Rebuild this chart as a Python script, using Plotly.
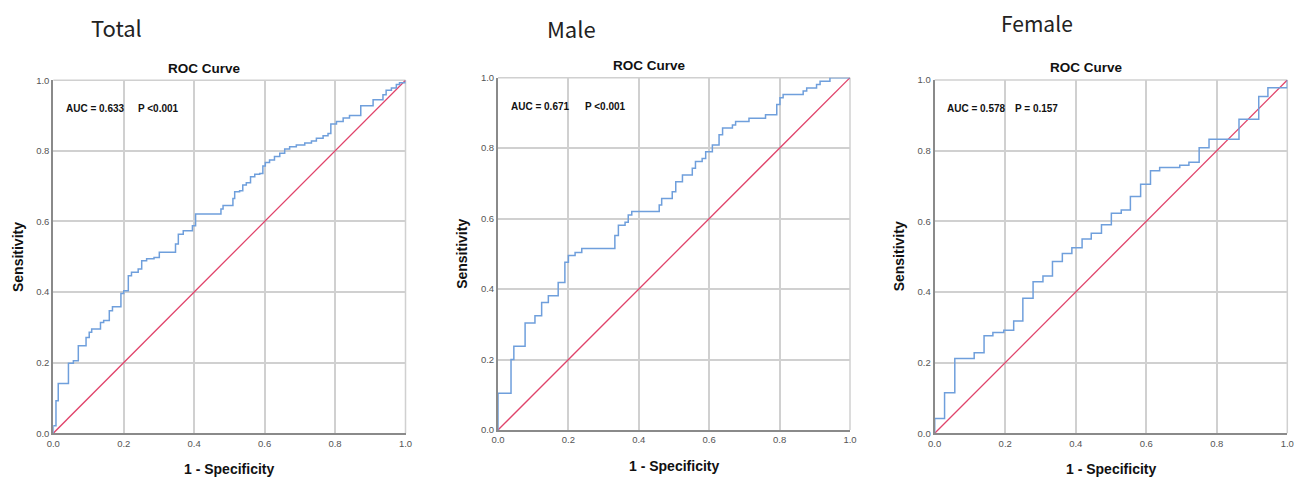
import plotly.graph_objects as go

# page body has an 8px default margin; the figure fills the rest of the 1303x478 window
OFF = 8
W, H = 1303 - OFF, 478 - OFF

# ---- data ----
panel_names = ["Total", "Male", "Female"]
auc_texts = ["AUC = 0.633", "AUC = 0.671", "AUC = 0.578"]
p_texts = ["P <0.001", "P <0.001", "P = 0.157"]
tick_vals = [0.0, 0.2, 0.4, 0.6, 0.8, 1.0]
tick_text = ["0.0", "0.2", "0.4", "0.6", "0.8", "1.0"]

total_fpr = [0, 0, 0.0076, 0.014, 0.043, 0.057, 0.071, 0.093, 0.102, 0.109, 0.134, 0.143, 0.159, 0.168,
             0.192, 0.2, 0.213, 0.222, 0.241, 0.251, 0.265, 0.286, 0.301, 0.347, 0.355, 0.369, 0.395,
             0.404, 0.476, 0.482, 0.51, 0.515, 0.529, 0.538, 0.548, 0.56, 0.572, 0.586, 0.595, 0.602,
             0.614, 0.628, 0.643, 0.657, 0.671, 0.69, 0.714, 0.733, 0.747, 0.766, 0.78, 0.788, 0.804,
             0.823, 0.841, 0.873, 0.908, 0.936, 0.945, 0.96, 0.974, 0.983, 1.0]
total_tpr = [0, 0.021, 0.092, 0.141, 0.198, 0.205, 0.248, 0.271, 0.286, 0.295, 0.314, 0.319, 0.347, 0.358,
             0.396, 0.404, 0.446, 0.456, 0.465, 0.489, 0.494, 0.498, 0.513, 0.536, 0.564, 0.574, 0.588,
             0.621, 0.635, 0.645, 0.665, 0.684, 0.687, 0.703, 0.71, 0.727, 0.734, 0.736, 0.757, 0.767,
             0.774, 0.784, 0.793, 0.805, 0.812, 0.817, 0.822, 0.828, 0.836, 0.843, 0.849, 0.876, 0.883,
             0.893, 0.9, 0.928, 0.945, 0.959, 0.972, 0.978, 0.988, 0.993, 1.0]

male_fpr = [0, 0, 0.037, 0.045, 0.077, 0.105, 0.124, 0.143, 0.171, 0.19, 0.2, 0.219, 0.238, 0.332, 0.342,
            0.361, 0.37, 0.38, 0.458, 0.465, 0.495, 0.505, 0.524, 0.552, 0.561, 0.58, 0.59, 0.609, 0.628,
            0.638, 0.666, 0.675, 0.713, 0.76, 0.792, 0.801, 0.81, 0.867, 0.877, 0.905, 0.915, 0.943, 1.0]
male_tpr = [0, 0.104, 0.2, 0.238, 0.304, 0.324, 0.362, 0.381, 0.419, 0.476, 0.495, 0.504, 0.515, 0.552, 0.581,
            0.59, 0.61, 0.62, 0.639, 0.657, 0.676, 0.705, 0.724, 0.743, 0.762, 0.771, 0.79, 0.809, 0.838,
            0.857, 0.866, 0.876, 0.885, 0.895, 0.924, 0.943, 0.952, 0.962, 0.971, 0.981, 0.99, 1.0, 1.0]

female_fpr = [0, 0, 0.028, 0.057, 0.112, 0.14, 0.165, 0.196, 0.224, 0.25, 0.279, 0.307, 0.334, 0.362, 0.389,
              0.418, 0.444, 0.473, 0.501, 0.529, 0.555, 0.584, 0.612, 0.638, 0.695, 0.721, 0.75, 0.778,
              0.863, 0.919, 0.945, 1.0]
female_tpr = [0, 0.042, 0.115, 0.212, 0.228, 0.276, 0.285, 0.292, 0.318, 0.382, 0.429, 0.445, 0.486, 0.509,
              0.525, 0.55, 0.566, 0.59, 0.623, 0.632, 0.67, 0.705, 0.743, 0.752, 0.759, 0.767, 0.808, 0.832,
              0.889, 0.953, 0.978, 1.0]

ref_line = [0.0, 1.0]

curves = [(total_fpr, total_tpr), (male_fpr, male_tpr), (female_fpr, female_tpr)]

# ---- layout (window-pixel geometry of the three plot areas: left, right, top, bottom) ----
boxes = [(53.3, 405.5, 80.3, 433.2), (498.0, 850.0, 77.7, 430.0), (934.7, 1287.3, 80.0, 433.3)]
label_pos = [(116, 27), (571, 28), (1037, 23.4)]
label_size = [22, 22, 21]
title_off = -25  # ROC title center relative to plot center (px)

BLUE = "#6f9fdc"
RED = "#e0436a"
GRID = "#d0d0d0"
AXIS = "#8a8a8a"
FONT = "Liberation Sans, Arial, sans-serif"

def px(xp):
    return (xp - OFF) / W

def py(yp):
    return 1 - (yp - OFF) / H

fig = go.Figure()
annotations = []
layout_axes = {}

for i, ((fx, ty), (l, r, t, b)) in enumerate(zip(curves, boxes)):
    n = "" if i == 0 else str(i + 1)
    xa, ya = "x" + n, "y" + n
    fig.add_trace(go.Scatter(x=ref_line, y=ref_line, mode="lines", xaxis=xa, yaxis=ya,
                             line=dict(color=RED, width=1.3), showlegend=False, hoverinfo="skip"))
    fig.add_trace(go.Scatter(x=fx, y=ty, mode="lines", xaxis=xa, yaxis=ya, line_shape="hv",
                             line=dict(color=BLUE, width=1.5), showlegend=False))
    common = dict(range=[0, 1], tickvals=tick_vals, ticktext=tick_text, showgrid=True,
                  gridcolor=GRID, gridwidth=1.5, zeroline=False, showline=True,
                  linecolor=AXIS, linewidth=2, ticks="", fixedrange=True, automargin=False,
                  tickfont=dict(family=FONT, size=9.5, color="#555555"))
    layout_axes["xaxis" + n] = dict(common, domain=[px(l), px(r)], anchor=ya, mirror=False)
    layout_axes["yaxis" + n] = dict(common, domain=[py(b), py(t)], anchor=xa, mirror=False)

    # right and top light borders
    fig.add_shape(type="line", xref="paper", yref="paper", x0=px(r), x1=px(r), y0=py(b), y1=py(t),
                  line=dict(color=GRID, width=1.5), layer="below")
    fig.add_shape(type="line", xref="paper", yref="paper", x0=px(l), x1=px(r), y0=py(t), y1=py(t),
                  line=dict(color=GRID, width=1.5), layer="below")

    cx = (l + r) / 2
    annotations.append(dict(text=panel_names[i], x=px(label_pos[i][0]), y=py(label_pos[i][1]),
                            xref="paper", yref="paper", showarrow=False, xanchor="center", yanchor="middle",
                            font=dict(family="Noto Sans CJK SC, Noto Sans, sans-serif",
                                      size=label_size[i], color="#222222")))
    annotations.append(dict(text="<b>ROC Curve</b>", x=px(cx + title_off), y=py(t - 12),
                            xref="paper", yref="paper", showarrow=False, xanchor="center", yanchor="middle",
                            font=dict(family=FONT, size=13.5, color="#111111")))
    annotations.append(dict(text="<b>" + auc_texts[i] + "</b>", x=px(l + 10.5), y=py(t + 28.5),
                            xref="paper", yref="paper", showarrow=False, xanchor="left", yanchor="middle",
                            font=dict(family=FONT, size=10, color="#111111")))
    p_off = [83, 85, 78][i]
    annotations.append(dict(text="<b>" + p_texts[i] + "</b>", x=px(l + p_off), y=py(t + 28.5),
                            xref="paper", yref="paper", showarrow=False, xanchor="left", yanchor="middle",
                            font=dict(family=FONT, size=10, color="#111111")))
    annotations.append(dict(text="<b>1 - Specificity</b>", x=px(cx), y=py(b + 35.5),
                            xref="paper", yref="paper", showarrow=False, xanchor="center", yanchor="middle",
                            font=dict(family=FONT, size=14, color="#111111")))
    annotations.append(dict(text="<b>Sensitivity</b>", x=px(l - 36), y=py((t + b) / 2), textangle=-90,
                            xref="paper", yref="paper", showarrow=False, xanchor="center", yanchor="middle",
                            font=dict(family=FONT, size=14, color="#111111")))

fig.update_layout(width=W, height=H, margin=dict(l=0, r=0, t=0, b=0),
                  paper_bgcolor="white", plot_bgcolor="white",
                  annotations=annotations, **layout_axes)

fig.write_html("out.html")
